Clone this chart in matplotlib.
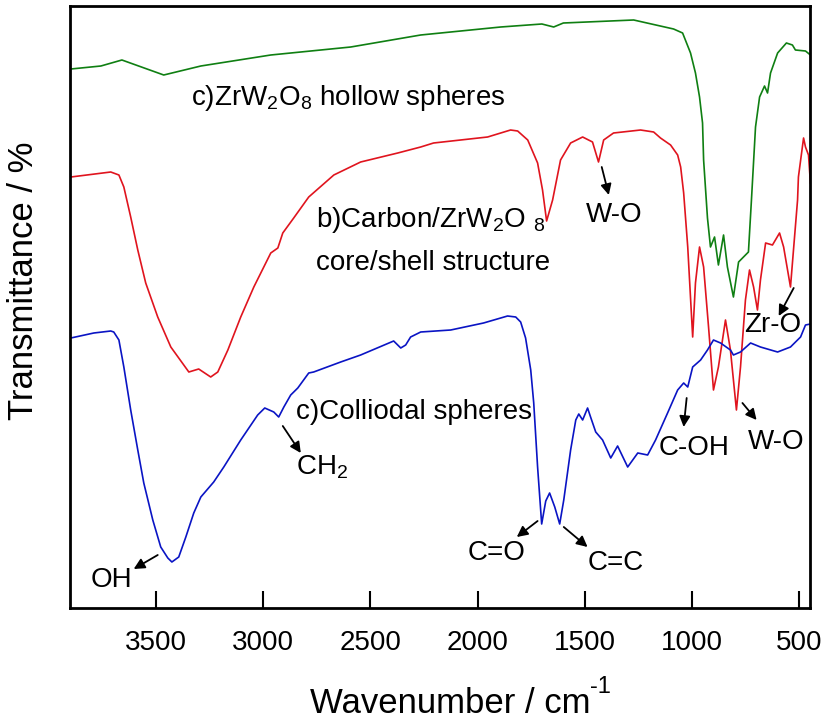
import numpy as np
import matplotlib
matplotlib.use("Agg")
import matplotlib.pyplot as plt

plt.rcParams['font.family'] = ['Liberation Sans', 'DejaVu Sans']
plt.rcParams['mathtext.default'] = 'regular'

# FTIR spectra (wavenumber in cm-1, transmittance in arbitrary units)
green_wn = [3896, 3756, 3658, 3463, 3290, 2964, 2591, 2265, 1892, 1700, 1645, 1600,
            1272, 1086, 1044, 1007, 984, 965, 951, 946, 928, 914, 895, 877, 853, 835,
            807, 783, 737, 723, 704, 685, 662, 648, 634, 601, 560, 532, 518, 471, 448]
green_t = [539, 542, 548, 533, 542, 553, 561, 573, 581, 584, 581, 585,
           588, 579, 575, 555, 535, 511, 485, 448, 390, 361, 371, 343, 373, 341,
           311, 346, 356, 408, 481, 511, 522, 515, 535, 555, 565, 563, 558, 557, 553]

red_wn = [3896, 3710, 3672, 3649, 3617, 3584, 3547, 3491, 3430, 3346, 3300, 3244, 3211,
          3164, 3104, 3043, 2964, 2931, 2908, 2857, 2787, 2670, 2545, 2372, 2265, 2205,
          1953, 1846, 1813, 1766, 1720, 1697, 1678, 1650, 1613, 1566, 1510, 1464, 1436,
          1412, 1366, 1240, 1179, 1147, 1100, 1067, 1053, 1039, 1020, 997, 984, 965,
          946, 923, 900, 877, 844, 821, 793, 774, 751, 732, 713, 695, 681, 657, 625,
          592, 573, 541, 527, 508, 504, 480, 471, 457, 448]
red_t = [431, 436, 433, 421, 391, 358, 325, 291, 261, 236, 239, 231, 236,
         258, 291, 321, 355, 360, 375, 390, 411, 433, 446, 455, 461, 465,
         471, 478, 477, 468, 445, 418, 387, 408, 448, 465, 471, 466, 446,
         468, 475, 478, 476, 470, 463, 453, 441, 415, 361, 271, 325, 361,
         341, 281, 218, 241, 288, 258, 198, 241, 308, 338, 321, 298, 328, 365, 363,
         375, 361, 321, 358, 408, 431, 470, 461, 453, 425]

blue_wn = [3896, 3789, 3710, 3696, 3672, 3649, 3617, 3584, 3556, 3514, 3477, 3444, 3425,
           3393, 3360, 3323, 3290, 3230, 3183, 3104, 3025, 2992, 2950, 2927, 2903, 2871,
           2838, 2787, 2764, 2638, 2545, 2391, 2358, 2335, 2312, 2265, 2125, 1972, 1860,
           1822, 1799, 1776, 1752, 1738, 1720, 1701, 1682, 1664, 1640, 1617, 1598, 1566,
           1542, 1528, 1510, 1487, 1473, 1449, 1417, 1379, 1347, 1300, 1253, 1207, 1170,
           1114, 1067, 1039, 1020, 997, 960, 928, 900, 867, 821, 807, 774, 727, 681,
           601, 541, 494, 471, 448]
blue_t = [270, 275, 277, 276, 268, 241, 198, 158, 125, 88, 61, 50, 46,
          51, 71, 95, 111, 126, 141, 168, 193, 200, 196, 191, 201, 213,
          220, 235, 236, 246, 253, 267, 260, 263, 271, 276, 278, 285, 292,
          291, 286, 270, 238, 205, 141, 84, 107, 115, 101, 84, 108, 158,
          188, 194, 188, 200, 191, 176, 168, 150, 162, 141, 155, 153, 168,
          195, 218, 225, 221, 241, 248, 258, 268, 265, 258, 253, 256, 265, 261,
          256, 261, 271, 283, 284]

xticks = [3500, 3000, 2500, 2000, 1500, 1000, 500]

W, H = 827, 723
fig = plt.figure(figsize=(W / 100, H / 100), dpi=100)
ax = fig.add_axes([70 / W, 1 - 608 / H, 740 / W, 602 / H])

ax.plot(green_wn, green_t, color='#0f7f12', lw=1.2)
ax.plot(red_wn, red_t, color='#e0141e', lw=1.2)
ax.plot(blue_wn, blue_t, color='#0a14c4', lw=1.2)

ax.set_xlim(3900, 450)
ax.set_ylim(0, 602)
ax.set_xticks(xticks)
ax.set_yticks([])
ax.tick_params(axis='x', direction='in', length=12, width=1.5, labelsize=20, pad=16)
for s in ax.spines.values():
    s.set_linewidth(2)

# axis titles (superscript written with a plain hyphen as in the original)
fig.text(450 / W, 1 - 713 / H, 'Wavenumber / cm', fontsize=25, ha='center', va='baseline')
fig.text(590 / W, 1 - 693 / H, '-1', fontsize=17, ha='left', va='baseline')
fig.text(24 / W, 1 - 281 / H, 'Transmittance / %', fontsize=25, rotation=90,
         ha='center', va='center')

fs = 20
ax.text(3337, 510, 'c)ZrW$_2$O$_8$ hollow spheres', fontsize=fs, va='center')
ax.text(2754, 388, 'b)Carbon/ZrW$_2$O $_8$', fontsize=fs, va='center')
ax.text(2754, 345, 'core/shell structure', fontsize=fs, va='center')
ax.text(2848, 196, 'c)Colliodal spheres', fontsize=fs, va='center')

labels = [
    ('W-O', 1365, 393, 'center', (1421, 441), (1388, 413)),
    ('Zr-O', 624, 283, 'center', (526, 320), (596, 292)),
    ('CH$_2$', 2848, 141, 'left', (2908, 182), (2824, 155)),
    ('OH', 3803, 28, 'left', (3491, 53), (3603, 39)),
    ('C=O', 2046, 55, 'left', (1720, 87), (1817, 71)),
    ('C=C', 1487, 45, 'left', (1598, 81), (1487, 61)),
    ('C-OH', 1156, 160, 'left', (1025, 210), (1039, 181)),
    ('W-O', 741, 166, 'left', (765, 205), (699, 188)),
]
for txt, x, y, ha, tail, head in labels:
    ax.text(x, y, txt, fontsize=fs, ha=ha, va='center')
    ax.annotate('', xy=head, xytext=tail,
                arrowprops=dict(arrowstyle='-|>', color='k', lw=1.3,
                                mutation_scale=16, shrinkA=0, shrinkB=0))

fig.savefig('out.png', dpi=100)
